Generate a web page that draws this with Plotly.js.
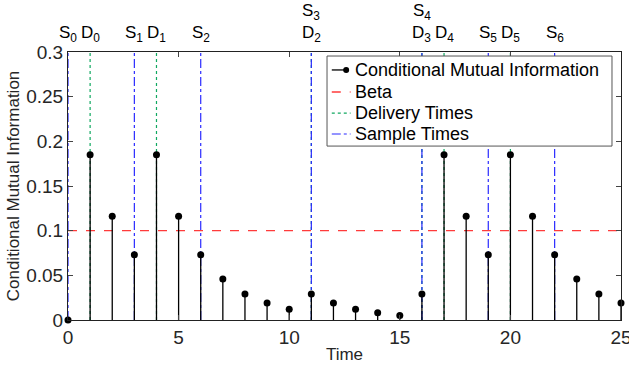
<!DOCTYPE html>
<html><head><meta charset="utf-8">
<script src="https://cdn.plot.ly/plotly-3.0.1.min.js"></script>
<style>html,body{margin:0;padding:0;background:#fff}#c{width:629px;height:369px}</style>
</head><body><div id="c"></div>
<script>
const times = [0,1,2,3,4,5,6,7,8,9,10,11,12,13,14,15,16,17,18,19,20,21,22,23,24,25];
const cmi = [0,0.185,0.116,0.073,0.185,0.116,0.073,0.046,0.029,0.019,0.012,0.029,0.019,0.012,0.008,0.005,0.029,0.185,0.116,0.073,0.185,0.116,0.073,0.046,0.029,0.019];
const beta = 0.1;
const sampleTimes = [0,3,6,11,16,19,22];
const deliveryTimes = [1,4,11,16,17,20];
const legendNames = ['Conditional Mutual Information','Beta','Delivery Times','Sample Times'];
const yMax = 0.3;
const xTicks = [0,5,10,15,20,25];
const yTicks = [0,0.05,0.1,0.15,0.2,0.25,0.3];
const yTickText = ['0','0.05','0.1','0.15','0.2','0.25','0.3'];

const colCMI='#000', colBeta='#ff3b3b', colDel='#10a860', colSmp='#2a2aff';
function vlines(ts){const x=[],y=[];ts.forEach(t=>{x.push(t,t,null);y.push(0,yMax,null);});return {x,y};}
const sx=[],sy=[];
times.forEach((t,i)=>{sx.push(t,t,null);sy.push(0,cmi[i],null);});
const sv=vlines(sampleTimes), dv=vlines(deliveryTimes);
const traces=[
 {x:dv.x,y:dv.y,mode:'lines',name:legendNames[2],line:{color:colDel,width:1.2,dash:'dot'},showlegend:false},
 {x:sv.x,y:sv.y,mode:'lines',name:legendNames[3],line:{color:colSmp,width:1.2,dash:'dashdot'},showlegend:false},
 {x:[0,25],y:[beta,beta],mode:'lines',name:legendNames[1],line:{color:colBeta,width:1.4,dash:'dash'},showlegend:false},
 {x:sx,y:sy,mode:'lines',name:legendNames[0],line:{color:colCMI,width:1.3},showlegend:false,connectgaps:false},
 {x:times,y:cmi,mode:'markers',name:legendNames[0],marker:{color:colCMI,size:7},showlegend:false,cliponaxis:false}
];
// top labels
const labels=[];
sampleTimes.forEach((t,i)=>labels.push({t, s:'S<sub>'+i+'</sub>', row:(t===11||t===16)?1:0}));
deliveryTimes.forEach((t,i)=>labels.push({t, s:'D<sub>'+i+'</sub>', row:0}));
const ann=labels.map(l=>({x:l.t,y:1,xref:'x',yref:'paper',yanchor:'bottom',xanchor:'center',yshift:l.row*22+5,text:l.s,showarrow:false,font:{size:17,color:'#000'}}));

// legend box (paper coords)
const L={x0:0.4684,x1:0.9837,y0:0.649,y1:0.985};
const rowY=[0.933,0.851,0.772,0.694];
const sampX0=0.477, sampX1=0.511, textX=0.516;
const shapes=[{type:'rect',xref:'paper',yref:'paper',x0:L.x0,x1:L.x1,y0:L.y0,y1:L.y1,fillcolor:'#fff',line:{color:'#555',width:1}}];
const sampleStyles=[{c:colCMI,d:'solid',w:1.3},{c:colBeta,d:'dash',w:1.4},{c:colDel,d:'dot',w:1.2},{c:colSmp,d:'dashdot',w:1.2}];
sampleStyles.forEach((s,i)=>{
  const x1 = i===0 ? 0.503 : sampX1;
  shapes.push({type:'line',xref:'paper',yref:'paper',x0:sampX0,x1:x1,y0:rowY[i],y1:rowY[i],line:{color:s.c,width:s.w,dash:s.d}});
  ann.push({x:textX,y:rowY[i],xref:'paper',yref:'paper',xanchor:'left',yanchor:'middle',text:legendNames[i],showarrow:false,font:{size:18,color:'#000'}});
});
// dot at end of CMI legend sample
shapes.push({type:'circle',xref:'paper',yref:'paper',xsizemode:'pixel',ysizemode:'pixel',xanchor:0.503,yanchor:rowY[0],x0:-3,x1:3,y0:-3,y1:3,fillcolor:'#000',line:{color:'#000',width:0}});

const layout={
 width:629,height:369,margin:{l:68,r:8,t:52,b:49},
 paper_bgcolor:'#fff',plot_bgcolor:'#fff',
 font:{family:'Liberation Sans, Arial, sans-serif',color:'#222'},
 showlegend:false,
 xaxis:{range:[0,25],tickvals:xTicks,ticks:'inside',ticklen:5,showline:true,linecolor:'#222',mirror:'ticks',showgrid:false,zeroline:false,ticklabeloverflow:'allow',tickfont:{size:19,color:'#262626'},title:{text:'Time',font:{size:17,color:'#262626'},standoff:1}},
 yaxis:{range:[0,yMax],tickvals:yTicks,ticktext:yTickText,ticks:'inside',ticklen:5,showline:true,linecolor:'#222',mirror:'ticks',showgrid:false,zeroline:false,tickfont:{size:19,color:'#262626'},title:{text:'Conditional Mutual Information',font:{size:17,color:'#262626'},standoff:2}},
 annotations:ann,shapes:shapes
};
Plotly.newPlot('c',traces,layout,{staticPlot:true});
</script></body></html>
